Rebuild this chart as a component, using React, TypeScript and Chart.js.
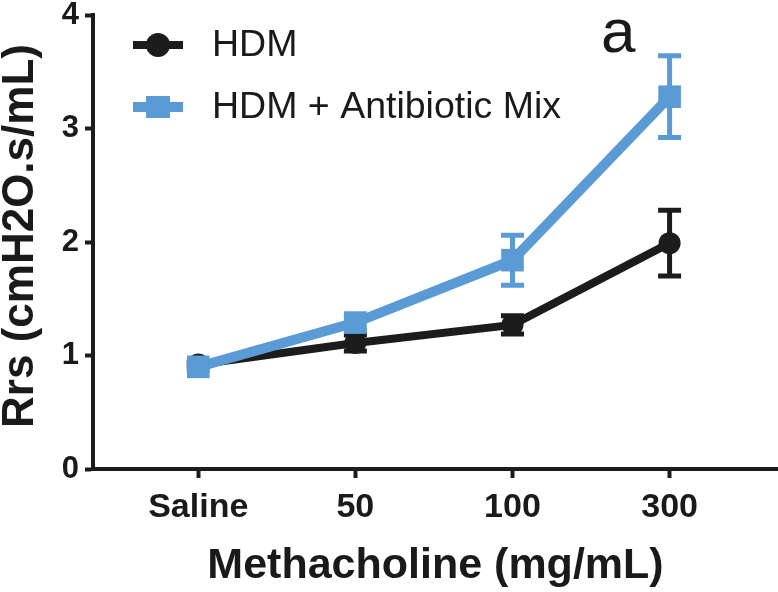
import React, { useEffect, useRef } from 'react';
import { Chart, registerables } from 'chart.js';

Chart.register(...registerables);

const categories = ['Saline', '50', '100', '300'];
const seriesNames = ['HDM', 'HDM + Antibiotic Mix'];
const hdmMeans = [0.92, 1.11, 1.27, 1.99];
const hdmErrors = [0.02, 0.07, 0.08, 0.29];
const abxMeans = [0.9, 1.29, 1.84, 3.28];
const abxErrors = [0.03, 0.06, 0.22, 0.36];
const yTicks = [0, 1, 2, 3, 4];
const panelLabel = 'a';
const xTitle = 'Methacholine (mg/mL)';
const yTitle = 'Rrs (cmH2O.s/mL)';

const BLACK = '#1c1c1c';
const BLUE = '#5b9bd5';
const FONT = '"Liberation Sans", Arial, Helvetica, sans-serif';

const errorBarPlugin = {
  id: 'errorBars',
  beforeDatasetDraw(chart: any, args: any) {
    const ds = chart.data.datasets[args.index];
    const errs: number[] = ds.errors || [];
    const yScale = chart.scales.y;
    const ctx = chart.ctx;
    ctx.save();
    ctx.strokeStyle = ds.borderColor;
    ctx.lineWidth = 5;
    ctx.lineCap = 'butt';
    args.meta.data.forEach((pt: any, i: number) => {
      const v = ds.data[i].y;
      const e = errs[i] || 0;
      const top = yScale.getPixelForValue(v + e);
      const bot = yScale.getPixelForValue(v - e);
      const x = pt.x;
      const half = 11.5;
      ctx.beginPath();
      ctx.moveTo(x, top);
      ctx.lineTo(x, bot);
      ctx.stroke();
      ctx.beginPath();
      ctx.moveTo(x - half, top);
      ctx.lineTo(x + half, top);
      ctx.moveTo(x - half, bot);
      ctx.lineTo(x + half, bot);
      ctx.stroke();
    });
    ctx.restore();
  },
};

const legendPlugin = {
  id: 'customLegend',
  afterDraw(chart: any) {
    const ctx = chart.ctx;
    ctx.save();
    const rows = [
      { name: seriesNames[0], color: BLACK, y: 45, style: 'circle', lw: 8 },
      { name: seriesNames[1], color: BLUE, y: 107, style: 'rect', lw: 10 },
    ];
    rows.forEach((r) => {
      ctx.strokeStyle = r.color;
      ctx.fillStyle = r.color;
      ctx.lineWidth = r.lw;
      ctx.beginPath();
      ctx.moveTo(133, r.y);
      ctx.lineTo(183, r.y);
      ctx.stroke();
      if (r.style === 'circle') {
        ctx.beginPath();
        ctx.arc(158, r.y, 12, 0, Math.PI * 2);
        ctx.fill();
      } else {
        ctx.fillRect(146, r.y - 11, 24, 22);
      }
      ctx.fillStyle = '#1a1a1a';
      ctx.font = `37.5px ${FONT}`;
      ctx.textAlign = 'left';
      ctx.textBaseline = 'middle';
      ctx.fillText(r.name, 212, r.y + 1);
    });
    ctx.font = `62px ${FONT}`;
    ctx.textBaseline = 'alphabetic';
    ctx.fillStyle = '#1a1a1a';
    ctx.fillText(panelLabel, 601, 52);

    // y-axis title
    ctx.save();
    ctx.translate(21, 236);
    ctx.rotate(-Math.PI / 2);
    ctx.font = `bold 44px ${FONT}`;
    ctx.textAlign = 'center';
    ctx.textBaseline = 'middle';
    ctx.fillStyle = '#1a1a1a';
    ctx.fillText(yTitle, 0, 0);
    ctx.restore();
    ctx.restore();
  },
};

export default function App() {
  const ref = useRef<HTMLCanvasElement | null>(null);

  useEffect(() => {
    if (!ref.current) return;
    const chart = new Chart(ref.current, {
      type: 'line',
      data: {
        datasets: [
          {
            label: seriesNames[0],
            data: hdmMeans.map((y, i) => ({ x: i, y })),
            errors: hdmErrors,
            borderColor: BLACK,
            backgroundColor: BLACK,
            borderWidth: 8,
            pointStyle: 'circle',
            pointRadius: 11,
            pointBorderWidth: 0,
            order: 1,
          } as any,
          {
            label: seriesNames[1],
            data: abxMeans.map((y, i) => ({ x: i, y })),
            errors: abxErrors,
            borderColor: BLUE,
            backgroundColor: BLUE,
            borderWidth: 10,
            pointStyle: 'rect',
            pointRadius: 16,
            pointBorderWidth: 0,
            order: 0,
          } as any,
        ],
      },
      options: {
        responsive: false,
        animation: false,
        layout: { autoPadding: false, padding: { top: 15, right: 0, left: 0, bottom: 0 } },
        plugins: { legend: { display: false }, tooltip: { enabled: false } },
        scales: {
          x: {
            type: 'linear',
            min: -0.67,
            max: 3.69,
            afterBuildTicks: (scale: any) => {
              scale.ticks = categories.map((_, i) => ({ value: i }));
            },
            afterFit: (scale: any) => {
              scale.height = 123;
              scale.paddingLeft = 0;
              scale.paddingRight = 0;
            },
            ticks: {
              callback: (v: any) => categories[v as number],
              font: { family: FONT, size: 34, weight: 'bold' },
              color: '#1a1a1a',
              padding: 9,
              maxRotation: 0,
            },
            grid: {
              display: true,
              drawOnChartArea: false,
              drawTicks: true,
              tickLength: 9,
              tickWidth: 4,
              tickColor: BLACK,
            },
            border: { display: true, width: 4, color: BLACK },
            title: {
              display: true,
              text: xTitle,
              font: { family: FONT, size: 43, weight: 'bold' },
              color: '#1a1a1a',
              padding: { top: 0, bottom: 0 },
            },
          },
          y: {
            type: 'linear',
            min: 0,
            max: 4,
            afterBuildTicks: (scale: any) => {
              scale.ticks = yTicks.map((v) => ({ value: v }));
            },
            afterFit: (scale: any) => {
              scale.width = 93;
              scale.paddingTop = 0;
              scale.paddingBottom = 0;
            },
            ticks: {
              font: { family: FONT, size: 31, weight: 'bold' },
              color: '#1a1a1a',
              padding: 6,
            },
            grid: {
              display: true,
              drawOnChartArea: false,
              drawTicks: true,
              tickLength: 8,
              tickWidth: 4,
              tickColor: BLACK,
            },
            border: { display: true, width: 4, color: BLACK },
            title: { display: false },
          },
        },
      },
      plugins: [errorBarPlugin, legendPlugin],
    } as any);
    return () => chart.destroy();
  }, []);

  return (
    <div style={{ position: 'absolute', left: 0, top: 0, width: 778, height: 592, background: '#fff' }}>
      <canvas ref={ref} width={778} height={592} style={{ display: 'block' }} />
    </div>
  );
}
